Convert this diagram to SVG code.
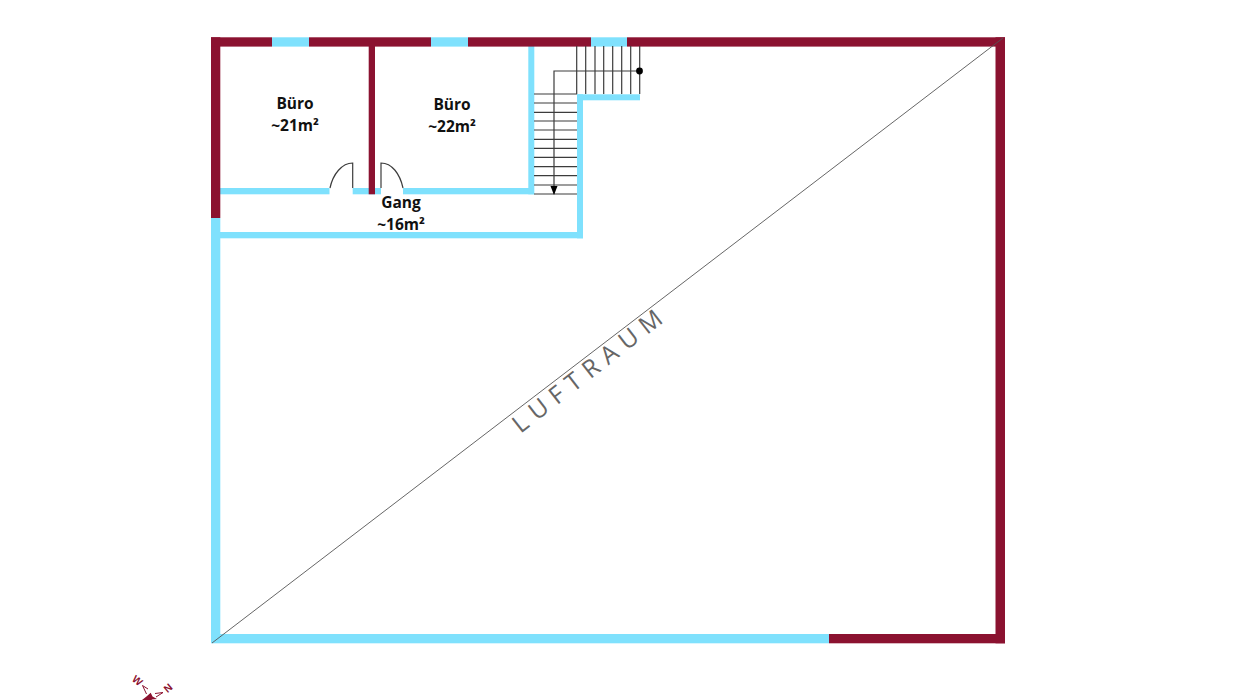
<svg xmlns="http://www.w3.org/2000/svg" width="1236" height="700" viewBox="0 0 1236 700">
<style>
.d{fill:#8b1230}
.c{fill:#7fe1fd}
.l{stroke:#3c3c3c;stroke-width:1.2;fill:none}
.t{font-family:"Open Sans","Liberation Sans",sans-serif;font-weight:700;font-size:15.5px;fill:#111;text-anchor:middle}
.m{font-family:"Liberation Sans",sans-serif;font-size:10.5px;font-weight:700;text-anchor:middle;stroke:none}
</style>
<rect width="1236" height="700" fill="#fff"/>
<g id="walls-cyan">
<rect class="c" x="211" y="218" width="9.3" height="425"/>
<rect class="c" x="211" y="634" width="618" height="9.3"/>
<rect class="c" x="272" y="37.3" width="37" height="9.3"/>
<rect class="c" x="431" y="37.3" width="37" height="9.3"/>
<rect class="c" x="591" y="37.3" width="36" height="9.3"/>
<rect class="c" x="220" y="188" width="109.5" height="6.3"/>
<rect class="c" x="352.7" y="188" width="28.3" height="6.3"/>
<rect class="c" x="403" y="188" width="131" height="6.3"/>
<rect class="c" x="528.3" y="46" width="6" height="148.3"/>
<rect class="c" x="220" y="232" width="363" height="6.3"/>
<rect class="c" x="577" y="94.3" width="6" height="144"/>
<rect class="c" x="577" y="94.3" width="63" height="6"/>
</g>
<g id="walls-red">
<rect class="d" x="211" y="37.3" width="9.3" height="180.7"/>
<rect class="d" x="211" y="37.3" width="61" height="9.3"/>
<rect class="d" x="309" y="37.3" width="122" height="9.3"/>
<rect class="d" x="468" y="37.3" width="123" height="9.3"/>
<rect class="d" x="627" y="37.3" width="378" height="9.3"/>
<rect class="d" x="995.5" y="37.3" width="9.5" height="606"/>
<rect class="d" x="829" y="634" width="176" height="9.3"/>
<rect class="d" x="368.7" y="46" width="6.3" height="148.3"/>
</g>
<g id="doors">
<path class="l" d="M352.7 188V163C342 163 333 174 330 188"/>
<path class="l" d="M381 188V163C392 163 400 174 403 188"/>
</g>
<g id="stairs">
<path class="l" d="M576.7 46V94M585.7 46V94M595 46V94M603.7 46V94M612.7 46V94M621.7 46V94M630.7 46V94M639.7 46V94"/>
<path class="l" d="M534 94H577M534 103H577M534 112.3H577M534 121H577M534 130H577M534 139.3H577M534 148.3H577M534 157.3H577M534 166.7H577M534 175.7H577M534 185H577M534 194H577"/>
<path class="l" d="M639.5 71H554V194"/>
<circle cx="639.5" cy="71" r="3.4" fill="#000"/>
<path d="M550.5 186H557.5L554 195Z" fill="#000"/>
</g>
<g id="diagonal">
<line x1="212" y1="643" x2="1003" y2="38" stroke="#555" stroke-width="0.9"/>
</g>
<g id="room-buero-1"><text class="t" x="295" y="109">Büro</text><text class="t" x="295" y="131">~21m²</text></g>
<g id="room-buero-2"><text class="t" x="452" y="110">Büro</text><text class="t" x="452" y="132">~22m²</text></g>
<g id="room-gang"><text class="t" x="401" y="208">Gang</text><text class="t" x="401" y="230">~16m²</text></g>
<g id="room-luftraum"><text transform="translate(520.5 434) rotate(-38)" font-family="'Open Sans','Liberation Sans',sans-serif" font-size="24.500" letter-spacing="7.900" fill="#666">LUFTRAUM</text></g>
<g id="compass" fill="#8b1230" stroke="#8b1230">
<path d="M150.700 692.700L152.500 696.500L157 699L152 699.500L151.500 700H142L146.500 696.500Z" stroke="none"/>
<path d="M146.500 694L142.500 685.500L148 689M156 697L163 692.500L155 693.500" fill="none" stroke-width="1"/>
<text class="m" transform="translate(137.500 680.500) rotate(39) translate(0 3.700)">W</text>
<text class="m" transform="translate(168 688) rotate(-40) translate(0 3.700)">N</text>
</g>
</svg>
